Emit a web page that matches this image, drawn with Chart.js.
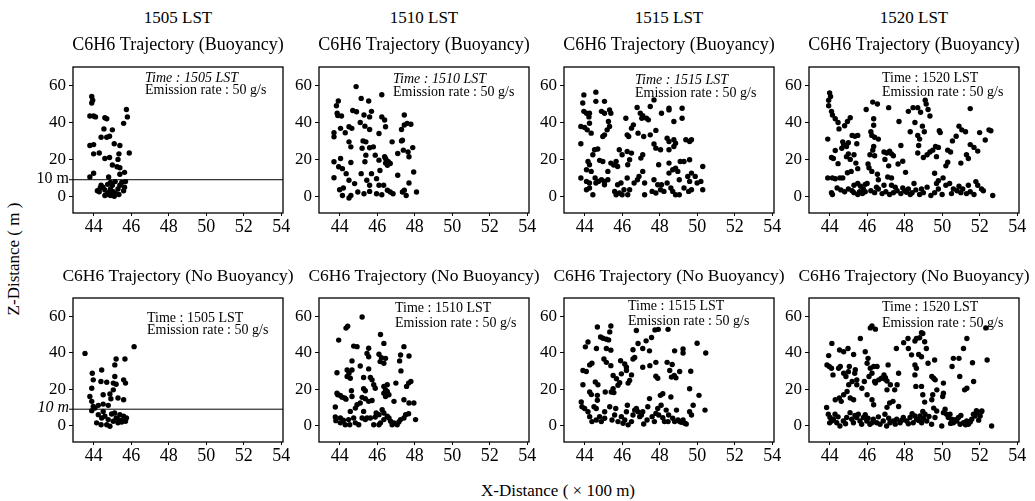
<!DOCTYPE html>
<html>
<head>
<meta charset="utf-8">
<script src="https://cdn.jsdelivr.net/npm/chart.js@4.4.1/dist/chart.umd.min.js"></script>
<style>
  body { margin: 0; background: #fff; }
  #wrap { position: relative; width: 1035px; height: 501px; overflow: hidden;
          font-family: 'Liberation Serif', serif; color: #000; }
  #wrap canvas { position: absolute; }
  .lbl { position: absolute; font-size: 17px; white-space: nowrap; transform: translate(-50%, -50%); }
  .ylab { transform: translate(-50%, -50%) rotate(-90deg); }
</style>
</head>
<body>
<div id="wrap">
  <div class="lbl" style="left:178px;top:18px">1505 LST</div>
  <div class="lbl" style="left:424px;top:18px">1510 LST</div>
  <div class="lbl" style="left:669px;top:18px">1515 LST</div>
  <div class="lbl" style="left:914px;top:18px">1520 LST</div>
  <div class="lbl ylab" style="left:14px;top:259px">Z-Distance ( m )</div>
  <div class="lbl" style="left:558px;top:491px">X-Distance ( &times; 100 m)</div>
</div>
<script>
// tick values
const xTicks = [44, 46, 48, 50, 52, 54];
const yTicks = [0, 20, 40, 60];
const times = ['1505', '1510', '1515', '1520'];
const refHeight = 9; // the "10 m" line as it sits in the figure

// buoyancy runs
const b1505 = [[43.9,54],[43.95,52],[43.9,50.5],[43.8,43.5],[44,43.5],[44.1,43],[44.6,42.5],[44.7,42],[44.55,36.5],[45,36],[44.4,32],[44.7,32],[44.85,32.5],[43.8,27.5],[44,28],[45.4,27.5],[44,23],[44.3,23.5],[44.6,20.5],[44.85,21],[45.35,23],[45,17],[45.25,16],[45.4,15.5],[45.3,20],[45.9,23.5],[43.8,10.5],[44,12.5],[44.8,10.5],[45.4,12],[45.65,13],[45.7,8],[45.75,47],[45.8,43],[45.6,39.5],[45.1,28.5],
  [44.2,3],[44.35,4.5],[44.5,5],[44.6,3.5],[44.7,1],[44.8,2],[44.9,0.5],[44.9,4],[45,6],[45.05,2.5],[45.2,1.5],[45.3,4],[45.35,1],[45.4,6],[45.5,7.5],[45.6,3],[45.65,5],[44.4,6],[44.75,6.5],[44.9,7.5],[45.15,8],[44.6,0.5],[45.1,0],[44.3,2.5]];
const b1510 = [[44.88,59.4],[43.93,51.6],[43.83,49],[43.87,45],[43.9,43.7],[43.7,34.4],[43.7,32.2],[45.15,53],[45.55,51.6],[46.25,55],[44.7,46.5],[44.9,45.8],[45.3,44],[45.6,43],[45.7,46],[46.25,43],[46.4,41.3],[46.45,37.7],[46.1,34],[45.6,36.2],[45.35,38],[44.65,36.8],[44.5,37.7],[44.05,36.8],[44.3,34.4],[47.45,38.6],[47.8,39],[47.3,36.2],[47.45,44],[44.5,29.5],[44.6,26.8],[45.4,29.5],[46.8,29.5],[47.35,30.4],[43.7,18.7],[44.05,20.5],[43.95,16],[44.15,15],[44.6,18.3],[45.2,26],[45.6,26.3],[45.4,22.3],[45.35,18.7],[45.9,22.3],[45.8,26.8],[46.1,19.6],[46.45,20.5],[46.6,18.7],[46.55,16.8],[46.7,17.8],[47.1,23.2],[47.65,24],[47.7,21.4],[47.9,26.4],
  [43.7,10.1],[44.35,12.3],[44.5,8.7],[44.2,4.5],[44.15,0.5],[44.5,-0.9],[44.97,2.4],[45.3,1.4],[45.6,2.7],[45.97,1.4],[46.25,0.9],[44.8,6.9],[45.15,12.3],[45.45,8.7],[45.7,12.3],[45.97,9.6],[46.15,14],[46.35,6],[46.55,3.3],[46.7,2.4],[46.85,1.4],[47.1,11.4],[47.35,2.4],[47.45,3.3],[47.55,0.5],[47.7,7.2],[47.95,13.2],[48.1,2.4],[44,3.6],[44.6,0.5],[45.6,6],[46.1,6],[46.4,21.5],[46.5,19.5],[46.45,18],[44.1,43.5],[45.1,40],[45.25,30],[47.4,25],[47.3,30],[47.6,39.5]];
const b1515 = [[43.96,54.9],[43.9,50.5],[43.96,46],[44.1,45],[44.26,45],[44.23,43],[44.26,39.6],[43.8,37.8],[44,37.3],[44.14,36],[44.35,34.2],[43.8,28.5],[44.6,56.4],[44.6,51.4],[45.06,51.4],[44.9,46],[45.06,45],[45.33,46.8],[45.4,45],[45.27,40.5],[45.33,37.8],[45.2,36],[45.06,33.3],[44.97,32.4],
  [44.53,25.2],[44.44,22.5],[44.7,25.6],[44.8,19.5],[44.97,18.9],[44.18,18.9],[44.26,17.1],[44.1,14.4],[44.35,13.5],[43.8,9.9],[44.1,8.1],[44.26,7.2],[44.1,3.6],[44.44,0.9],[44.56,9.9],[44.74,8.1],[45.06,8.1],[45.24,13.5],[45.4,18],[45.55,17],[45.68,18.9],[45.76,16.2],[45.76,6.3],[45.94,7.2],[45.85,1.8],[46,0.9],[46.1,3.6],[45.85,25.2],[46,22.5],[46.27,24.3],[46.5,23.4],[46.4,19.8],[46.3,17.1],[46.27,9.9],[46.4,3.6],[46.3,0.9],[46.64,7.2],[46.82,9],[46.9,10.8],[47.1,13.5],[47,20.7],[47.1,22.5],[47.2,7.2],[47.2,0.9],
  [46.2,42.3],[46.27,33.3],[46.35,32.4],[46.5,36.9],[46.6,38.7],[46.8,48.1],[46.97,45],[47.1,43.7],[47.05,42.3],[46.85,34.2],[47.15,32.4],[47.3,42.3],[47.4,41.4],[47.5,33.3],[47.5,48.6],[47.7,52.2],[47.8,35.7],[47.7,28.3],[47.8,26.1],[48.05,25.2],[47.95,17.1],[48.1,45],[48.5,47.7],[48.5,46.8],[48.76,40.5],[48.4,31.5],[48.76,30.6],[48.5,29.7],[48.85,28.8],[49.2,47.7],[49.2,42.3],[49.4,30.6],[49.7,30.6],[49.6,29.7],[48.5,25.2],[48.76,27],
  [47.7,9],[47.9,6.3],[47.6,2.7],[47.8,1.8],[48.05,3.6],[48.1,6.3],[48.23,2.7],[48.4,7.2],[48.6,4.5],[48.7,2.7],[48.5,12.6],[48.5,18],[48.7,14.4],[48.85,15.3],[49.05,9],[48.97,13.5],[49.1,18.9],[49.3,18.9],[48.85,0.9],[49.05,0.9],[49.3,4.5],[49.55,2.7],[49.5,10.8],[49.6,8.1],[49.7,12.6],[49.9,10.8],[50,7.2],[49.7,3.6],[50.3,3.6],[50.3,16.2],[49.6,19.8],[50.2,8.1],
  [44.26,4.5],[44.6,7.2],[44.9,9],[45.06,6.3],[45.24,9],[45.6,2.7],[45.68,0.9]];
const b1520 = [[44,56],[44.05,54],[43.95,52],[43.95,49],[44.1,46],[44.15,44],[43.9,31],[44.1,21],[43.9,10],[44.1,2],[44.15,1],
  [44.3,42],[44.45,40],[44.5,36.5],[44.3,24.8],[44.2,20.5],[44.45,17.7],[44.7,29.5],[44.75,28],[44.65,26],[44.9,27],[45,29],[45.1,42.5],[44.95,40.5],[44.8,38.2],[45.2,33],[45.35,32.5],[45.5,33],[45.45,28.5],[45.3,22.5],[45.4,18],[45.5,15],[45,23],[45.1,20],[44.9,21.5],[45.15,13.5],[44.95,12.8],[44.55,10],[44.3,9.5],[44.15,10],[44.7,10],
  [45.95,47],[46.3,51],[46.55,50],[46.35,42],[46.35,38.5],[46.2,35],[46.25,33],[46.4,32],[46.6,31],[46.35,27],[46.3,25],[46.15,22.5],[46.4,22],[46.05,17.5],[46.1,15.5],[46.25,13.5],[46.55,12],[46.6,9],[46.9,24],[47.05,23.5],[47.2,24.5],[47.3,23],[47.4,22],[47.15,16.5],[46.95,20],[47.1,10.5],[47.3,10],[47.15,48],[47.7,40.5],[47.8,27.5],[47.65,17.5],[47.9,19],[48.05,13],[48.3,35],[48.2,46],[48.45,48],[48.55,40],[48.7,48],[48.85,45.5],[48.95,38],[49.05,35],[49.1,52],[49.15,50],[49.25,47],[49.35,43.5],[48.7,33],[48.8,31],[48.75,27.5],[48.7,23.5],[49,21],[49.2,22.5],[49.35,24],[49.5,25],[49.65,27],[49.8,26.5],[49.85,35.5],[49.9,34.5],[49.7,21.5],[49.6,12.5],[49.8,8.5],[50.05,10],[50.2,16.5],[50.3,18.5],[50.3,25],[50.45,24],[50.55,30],[50.75,32.5],[50.9,38],[51.05,36],[51.25,35],[51,18],[51.3,22.5],[51.4,20.5],[51.5,47.5],[51.5,28],[51.7,26.5],[51.9,24.5],[52,34.5],[52.3,30.5],[52.5,36],[52.6,35.5],
  [44.4,4.5],[44.6,3.5],[44.8,2.5],[45,4],[45.2,3],[45.3,6],[45.5,7],[45.65,5.5],[45.8,4],[45.9,6.5],[46,7],[45.6,2.5],[45.75,1.5],[45.9,2.5],[45.3,2],[45.5,1],
  [46.2,3],[46.4,2],[46.6,4],[46.8,1.5],[47,2.5],[47.2,1],[47.4,2],[47.6,3],[47.8,1.5],[48,3],[48.2,4],[48.4,2],[48.6,3.5],[48.8,1],[49,2],[49.2,5],[49.4,0.5],[49.6,2],[49.8,4],[50,1],[50.2,6],[50.4,7],[50.6,4],[50.8,3],[51,2],[51.1,4],[51.3,1.5],[51.5,2.5],[51.7,1],[51.9,6],[52.1,4],[52.7,0.5],[50.5,1.5],[50.9,5.5],[48.5,7],[48.9,4],[47.5,5],[46.9,6],[49.7,7],[51.4,6],[51.8,8],[52.2,3],[47.9,4.5],[48.3,1],[46.5,5],[47.3,6],[48.1,2.2]];

// no-buoyancy runs
const nb1505 = [[43.54,39.6],[45.2,36.5],[45.67,36.5],[46.16,43.3],[43.93,28.7],[44.43,30.5],[45.13,33.3],[45.13,26.9],[43.98,25.1],[44.39,24.2],[44.7,23.8],[45.05,23.3],[45.2,22.7],[45.6,25.1],[45.7,23.3],[43.9,20.5],[44.51,16.9],[44.87,17.3],[45.05,19.6],[45.3,15.1],[45.6,14.2],[44.92,14.7],[43.8,16],[43.9,13.3],[43.98,10.5],[43.9,8.2],[44.25,11.1],[44.51,11.8],[44.78,11.1],[44.25,6],[44.43,4.2],[44.6,5.1],[44.78,3.3],[44.7,0.5],[44.87,-0.4],[45.05,2.4],[45.2,4.2],[45.3,1.5],[45.5,2.7],[45.6,5.1],[45.7,2.4],[45.75,4.2],[44.16,1.5],[44.4,0.5],[45.12,6.9],[45.4,6],[44.96,6.4],[44.51,7.8],[44.07,9.6],[45.33,3.3],[45.5,2]];
const nb1510 = [[45.2,59.6],[44.34,53.5],[44.43,54.5],[43.95,46.9],[46.18,50],[46.36,45.1],[44.75,43.6],[44.93,43.3],[45.55,42.4],[45.46,39.6],[45.55,37.8],[46.1,39.1],[46.23,37.3],[46.45,36.9],[46.16,35.1],[46.36,34.2],[47.25,38.7],[47.43,43.3],[47.7,38.2],[47.2,35.5],[44.66,35.5],[45.1,32.7],[45.55,31.1],[43.86,29],[44.4,30.5],[44.5,28.7],[44.4,26.9],[44.57,26],[44.66,30.5],[45.28,26.4],[45.64,26.4],[45.73,25.1],[45.82,22.4],[45.9,20.5],[46.36,21.5],[46.54,22.4],[46.45,19.6],[46.54,18.7],[46.36,17.8],[46.63,16.9],[46.45,16],[46.9,13.3],[47,23.3],[47.27,30],[47.57,21.5],[47.68,23.3],[47.8,24.2],[47.43,14.2],[47.7,12.4],[47.96,12.4],[47.68,6.5],[48.05,3.3],
  [43.77,10.2],[43.86,17.8],[43.9,16.9],[44.04,16.5],[44.13,15.6],[44.27,15.1],[44.34,14.5],[44.66,16],[44.63,19.1],[45.2,15.5],[45.28,20.2],[45.37,19.1],[45.37,14.7],[45.55,13.3],[45.73,13.8],[45.1,12.4],[44.93,11.5],
  [43.77,4.7],[43.8,2.7],[44.04,1.5],[44.04,4.2],[44.2,2.9],[44.3,0.5],[44.48,3.3],[44.54,0.5],[44.75,4.2],[44.84,1.5],[45.02,0.5],[45.2,4.2],[45.28,7.8],[45.37,3.3],[45.46,4.2],[45.64,4.2],[45.82,0.5],[45.9,4.7],[45.95,6.9],[46.1,6],[46.18,1.5],[46.1,0.5],[46.36,3.3],[46.27,8.7],[46.36,6.9],[46.54,5.1],[46.63,4.2],[46.72,2.4],[46.8,0.5],[46.9,1.5],[47.07,0.5],[47.16,2],[47.25,3.3],[47.43,4.2],[47.52,6],[44.84,9.6],[44.57,7.8]];
const nb1515 = [[44.68,54.1],[44.85,48.6],[44.98,47.9],[45.16,47.4],[45.28,47],[45.34,51.4],[45.4,54.6],[44.18,45.9],[44.04,43.2],[44.63,42.3],[45.16,42.3],[45.4,41.4],[45.03,36.5],[45.16,34.7],[44.39,34.2],[44.27,33.3],[43.91,30.2],[44.09,29.7],[45.4,32.9],[45.52,27.5],[44.57,23.9],[44.71,22.4],[43.91,22.4],[44.27,18.4],[44.36,17],[44.68,16.6],[44.68,13.9],[45.1,18.4],[45.42,18.4],[45.52,20.3],[45.56,18.1],[45.78,22.1],[45.7,25.7],
  [43.82,13],[43.86,10.3],[44,9.4],[44.18,7.6],[44.5,10.3],[44.62,9.4],[44.27,4.9],[44.39,2.2],[44.62,3.1],[44.8,4.9],[44.89,2.2],[45.07,4],[45.07,7.6],[45.34,10.3],[45.46,3.1],[45.6,5.8],[45.66,9.4],[45.78,2.2],[45.96,4.9],[46.05,1.3],[46.14,3.1],[46.23,7.6],[46.28,11.2],[46.32,0.4],[46.5,2.2],[46.58,5.8],[46.67,8.5],[46.76,9.4],[46.85,7.6],[46.94,4.9],[47.03,5.8],[47.1,7.6],[47.15,0.9],[47.33,3.1],[47.37,10.3],[47.46,14.8],[47.6,4.9],[47.72,2.2],[47.8,6.7],[47.9,9.4],[47.95,5.8],[48.04,16.6],[48.08,11.2],[48.17,4.3],[48.26,2.2],[48.35,8.5],[48.45,2.2],[48.48,5.8],[48.6,15.7],[48.7,4],[48.8,2.2],[48.9,8.5],[48.98,3.1],[49.07,2.2],[49.16,1.8],[49.25,3.1],[49.34,1.3],[49.42,0.9],
  [45.92,35.6],[46.23,32],[46.14,33.8],[46.23,30.2],[46.5,27.8],[46.4,24.8],[46.32,23.3],[45.87,23.5],[45.96,28.4],[46.58,36.5],[46.58,41.6],[46.67,37.4],[46.85,45],[46.76,52.2],[47.1,42.3],[47.1,32],[47.28,46.5],[47.46,41],[47.57,48.3],[47.75,52.5],[47.93,52.8],[47.48,32.9],[47.8,34.7],[47.8,27.1],[47.9,26],[48.17,17.5],[48.45,52.8],[48.8,41],[48.4,34.7],[48.67,33.5],[48.54,30.2],[48.78,27.5],[48.63,26.6],[48.87,26.2],[49.07,29.7],[49.25,42],[49.25,39.8],[49.66,29.8],[49.6,20.2],[49.79,11.2],[49.7,5.8],[50,45.2],[50.1,16.6],[50.46,39.8],[50.42,8.5],[49.6,7.6]];
const nb1520 = [[43.86,33.3],[43.98,32.4],[44.1,31.5],[43.95,38.4],[44.18,27.8],[44.12,45.1],[44.53,41.5],[44.75,40.5],[44.98,42.3],[44.57,32.4],[44.48,31.5],[44.75,28.7],[44.87,26.9],[45,29.6],[45.05,32.4],[45.28,39],[45.37,30.6],[45.34,28.7],[45.45,25.1],[45.45,22.4],[45.2,24.2],[45.02,22.4],[44.93,18.7],[44.75,16.9],[44.62,13.3],[44.52,15.1],[44.3,14.2],[45.1,15.1],[45.28,14.2],[45.64,47.8],[45.9,40.5],[46.05,36.9],[46,34.2],[46.17,31.5],[46.35,32.4],[46.26,28.7],[46.4,24.2],[46.1,26.9],[45.85,24.2],[45.72,20.5],[46,16.9],[46.26,14.2],[46.35,11.4],[46.17,53.6],[46.26,54.7],[46.44,52.9],[46.53,32.4],[46.44,23.3],[46.62,25.1],[46.76,26],[46.94,25.5],[47.06,24.5],[46.9,27.8],[46.98,26.3],[47.12,33.3],[47.06,19.6],[47.24,22.4],[47.47,19.6],[47.6,22.4],[47.68,28.7],[47.56,42.3],[47.38,13.3],[47.2,12.4],[47.06,10],[47.68,10.5],[47.95,45.5],[48.18,47.8],[48.2,42.3],[48.55,46.4],[48.63,47.8],[48.8,48.2],[48.9,51],[48.97,50.5],[49.07,46],[49.16,42.3],[48.37,38.8],[48.75,39],[48.9,37.8],[48.55,33.3],[48.63,31.5],[48.55,27.8],[48.6,21.5],[48.9,21.5],[48.97,16.9],[49.07,12.9],[48.97,7.8],[49.25,34.2],[49.45,26.9],[49.55,26],[49.63,25.1],[49.5,16.9],[49.45,14.2],[49.55,9.6],[49.6,36],[49.72,19.6],[50.07,17.8],[50.03,16],[50.07,23.3],[50.53,32.4],[50.6,36.9],[50.9,36.9],[50.94,26.9],[51.2,19.6],[51.32,20.5],[51.14,42.3],[51.32,47.8],[51.62,34.5],[51.68,24.2],[52.4,36],[52.33,53.6],[52.1,7.8],[51.83,8.2],
  [43.84,9.9],[43.93,6.2],[44.02,4.4],[44.11,2.5],[44.2,3.5],[44.29,6.2],[44.38,1.6],[44.55,-0.2],[44.73,2.5],[44.91,4.4],[45.09,7.1],[45.18,3.5],[45.27,1.6],[45.44,4.4],[45.53,6.2],[45.62,2.5],[45.71,0.7],[45.8,4.4],[45.98,2.5],[46.15,0.7],[46.33,3.5],[46.51,1.6],[46.69,0.7],[46.86,2.5],[46.95,6.2],[47.04,-0.2],[47.22,1.6],[47.4,2.5],[47.58,3.5],[47.76,1.6],[47.93,4.4],[48.11,2.5],[48.29,4.4],[48.46,1.6],[48.55,5.3],[48.64,3.5],[48.82,5.3],[48.91,1.6],[49.09,6.2],[49.18,2.5],[49.44,0.7],[49.62,4.4],[49.71,8],[49.98,-0.2],[50.07,7.1],[50.16,9],[50.24,6.2],[50.33,4.4],[50.42,6.2],[50.51,3.5],[50.6,1.6],[50.78,2.5],[50.87,4.4],[50.96,0.7],[51.14,1.6],[51.31,2.5],[51.4,0.7],[51.58,3.5],[51.67,6.2],[51.76,5.3],[51.85,7.1],[52.03,5.3],[52.12,8],[52.64,-0.2],
  [44,1.5],[44.45,4.8],[44.85,1],[45.35,5.5],[45.9,6],[46.05,4],[46.25,1.5],[46.6,4.8],[47.15,4],[47.5,0.8],[47.85,3],[48.2,1],[48.4,6.5],[48.75,2.8],[49,4],[49.3,5],[50.45,1.2],[50.7,3.2],[51,5.5],[51.25,0.5],[51.5,2],[51.95,3]];

// page layout of the eight plot boxes
const colLeft = [73, 319, 564, 809];
const rowTop = [67, 298];
const rowH = [146, 144];
const noteAt = [[72,11,23],[74,12,25],[71,13,26],[73,11,25],[74,20,32],[76,10,25],[64,8,23],[73,9,25]];

Chart.defaults.font.family = "'Liberation Serif', serif";
Chart.defaults.color = '#000';

const panelDeco = {
  id: 'panelDeco',
  afterDatasetsDraw(chart, args, o) {
    const ctx = chart.ctx;
    const a = chart.chartArea;
    ctx.save();
    ctx.strokeStyle = '#000';
    ctx.lineWidth = 1.3;
    ctx.strokeRect(a.left, a.top, a.right - a.left, a.bottom - a.top);
    ctx.fillStyle = '#000';
    ctx.textBaseline = 'middle';
    ctx.textAlign = 'center';
    ctx.font = o.titleSize + "px 'Liberation Serif'";
    ctx.fillText(o.title, (a.left + a.right) / 2, a.top - 22);
    ctx.textAlign = 'left';
    ctx.font = (o.italic ? 'italic ' : '') + "14px 'Liberation Serif'";
    ctx.fillText('Time : ' + o.time + ' LST', a.left + o.note[0], a.top + o.note[1]);
    ctx.font = "14px 'Liberation Serif'";
    ctx.fillText('Emission rate : 50 g/s', a.left + o.note[0], a.top + o.note[2]);
    if (o.ref !== null) {
      const y = chart.scales.y.getPixelForValue(o.ref);
      ctx.lineWidth = 1;
      ctx.beginPath();
      ctx.moveTo(a.left - 4, y);
      ctx.lineTo(a.right, y);
      ctx.stroke();
      ctx.textAlign = 'right';
      ctx.font = (o.refItalic ? 'italic ' : '') + "16px 'Liberation Serif'";
      ctx.fillText('10 m', a.left - 4, y - 1);
    }
    ctx.restore();
  }
};

const wrap = document.getElementById('wrap');
const runs = [b1505, b1510, b1515, b1520, nb1505, nb1510, nb1515, nb1520];

runs.forEach(function (pts, i) {
  const row = Math.floor(i / 4), col = i % 4;
  const cv = document.createElement('canvas');
  cv.width = 45 + 210 + 16;
  cv.height = 37 + rowH[row] + 30;
  cv.style.left = (colLeft[col] - 45) + 'px';
  cv.style.top = (rowTop[row] - 37) + 'px';
  wrap.appendChild(cv);

  new Chart(cv, {
    type: 'scatter',
    data: {
      datasets: [{
        data: pts.map(function (p) { return { x: p[0], y: p[1] }; }),
        pointRadius: 2.7,
        pointHoverRadius: 2.7,
        pointBackgroundColor: '#000',
        pointBorderWidth: 0
      }]
    },
    options: {
      responsive: false,
      animation: false,
      layout: { padding: { top: 37, right: 16, left: 0, bottom: 0 } },
      plugins: {
        legend: { display: false },
        tooltip: { enabled: false },
        panelDeco: {
          title: row === 0 ? 'C6H6 Trajectory (Buoyancy)' : 'C6H6 Trajectory (No Buoyancy)',
          titleSize: row === 0 ? 18 : 17.5,
          time: times[col],
          italic: row === 0 && col < 3,
          note: noteAt[i],
          ref: col === 0 ? refHeight : null,
          refItalic: row === 1
        }
      },
      scales: {
        x: {
          type: 'linear', min: 42.9, max: 54.1,
          afterBuildTicks: function (s) { s.ticks = xTicks.map(function (v) { return { value: v }; }); },
          afterFit: function (s) { s.height = 30; },
          grid: { drawOnChartArea: false, color: '#000', tickLength: 3 },
          border: { display: false },
          ticks: { font: { size: 18 }, padding: 0, maxRotation: 0, autoSkip: false }
        },
        y: {
          type: 'linear', min: -9, max: 70,
          afterBuildTicks: function (s) { s.ticks = yTicks.map(function (v) { return { value: v }; }); },
          afterFit: function (s) { s.width = 45; },
          grid: { drawOnChartArea: false, color: '#000', tickLength: 4 },
          border: { display: false },
          ticks: { font: { size: 17 }, padding: 3 }
        }
      }
    },
    plugins: [panelDeco]
  });
});
</script>
</body>
</html>
